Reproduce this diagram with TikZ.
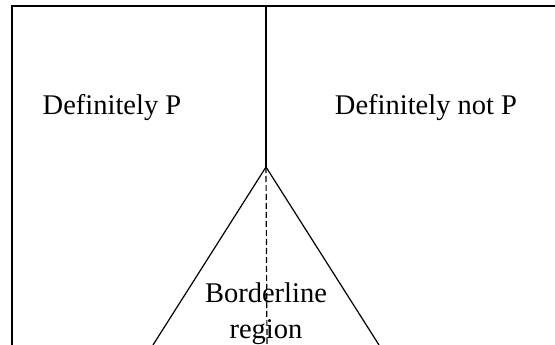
\documentclass[tikz,border=0pt]{standalone}
\usepackage{fontspec}
\setmainfont{Liberation Serif}
\usetikzlibrary{positioning}

\begin{document}
\begin{tikzpicture}[x=1pt,y=-1pt,line width=1.2pt,
    region label/.style={font=\fontsize{28.5}{36}\selectfont,align=center,inner sep=0pt},
    frame line/.style={line width=1.8pt}, split line/.style={dashed,dash pattern=on 6pt off 3pt}]

  \useasboundingbox (0,0) rectangle (555,345);

  \coordinate (corner) at (12,6);
  \coordinate (top end) at (555,6);
  \coordinate (bottom end) at (12,345);
  \coordinate (top mid) at (266,6);
  \coordinate (apex) at (266,167);
  \coordinate (left foot) at (153,345);
  \coordinate (right foot) at (379,345);
  \coordinate (mid foot) at (267,345);

  \node[region label,anchor=base] (yes) at (112,115) {Definitely P};
  \node[region label,anchor=base] (no) at (426,115) {Definitely not P};
  \node[region label,anchor=north] (border) at (266,282) {Borderline\\region};

  \draw[frame line] (bottom end) -- (corner) -- (top end);
  \path (top mid) edge (apex)
        (apex) edge (left foot)
        (apex) edge (right foot)
        (apex) edge[split line] (mid foot)
        ;

\end{tikzpicture}
\end{document}
